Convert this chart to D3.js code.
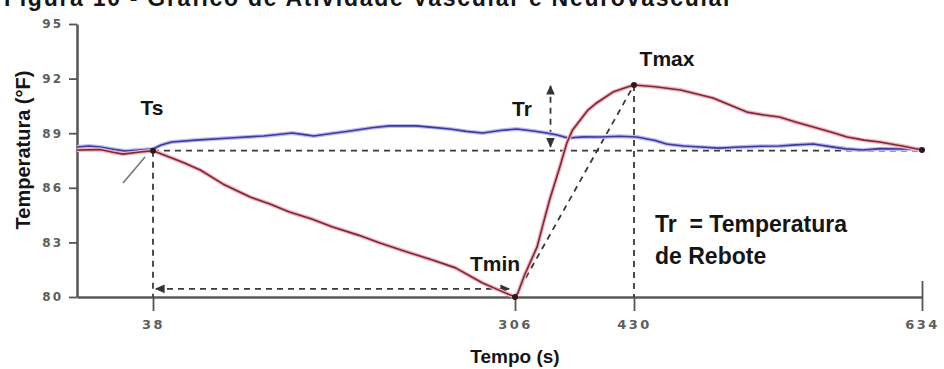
<!DOCTYPE html>
<html>
<head>
<meta charset="utf-8">
<script src="https://cdn.jsdelivr.net/npm/d3@7"></script>
<style>
  body { margin: 0; background: #fff; }
  svg { display: block; }
  .tick text { font-family: "DejaVu Sans", sans-serif; font-weight: bold; fill: #5e5e5e; }
  .lbl { font-family: "Liberation Sans", Arial, sans-serif; font-weight: bold; fill: #151515; }
</style>
</head>
<body>
<svg width="944" height="369"></svg>
<script>
// data: [time (s), temperature (°F)]
const xTicks = [38, 306, 430, 634];
const yTicks = [80, 83, 86, 89, 92, 95];

const vascular = [ // blue
  [0, 88.24], [6, 88.30], [11.5, 88.24], [18, 88.12], [24, 88.02], [31, 88.08], [38, 88.13],
  [44, 88.35], [52, 88.52], [70, 88.62], [95, 88.74], [120, 88.85], [141, 89.01], [150, 88.92],
  [157, 88.85], [170, 88.98], [184, 89.12], [200, 89.30], [213, 89.40], [233, 89.40],
  [245, 89.32], [258, 89.23], [270, 89.10], [282, 89.01], [295, 89.15], [308, 89.23],
  [325, 89.12], [339, 89.01], [350, 88.90], [361, 88.74], [378, 88.80], [395, 88.79],
  [415, 88.83], [432, 88.79], [445, 88.60], [453, 88.41], [465, 88.30], [477, 88.24],
  [490, 88.18], [505, 88.24], [520, 88.28], [533, 88.30], [545, 88.36], [557, 88.41],
  [570, 88.25], [580, 88.14], [592, 88.08], [605, 88.15], [618, 88.13], [634, 88.13]
];

const neurovascular = [ // red
  [0, 88.08], [11.5, 88.10], [18, 87.95], [23, 87.85], [31.5, 87.97], [38, 88.04],
  [48, 87.75], [60, 87.40], [73, 86.98], [90, 86.20], [110, 85.49], [125, 85.10],
  [139, 84.67], [155, 84.30], [171, 83.85], [190, 83.40], [206, 82.97], [225, 82.50],
  [245, 82.03], [262, 81.60], [282, 80.77], [295, 80.35], [306, 80.00],
  [309, 80.22], [316, 81.21], [322, 81.92], [329, 82.75], [335, 83.95], [342, 85.33],
  [353, 87.20], [360, 88.46], [366, 89.18], [374, 89.73], [382, 90.27], [391, 90.66],
  [408, 91.26], [420, 91.48], [430, 91.65], [445, 91.55], [463, 91.37], [486, 90.93],
  [498, 90.55], [510, 90.16], [522, 90.00], [533, 89.89], [545, 89.60], [557, 89.34],
  [570, 89.05], [581, 88.79], [593, 88.62], [604, 88.52], [620, 88.30], [634, 88.08]
];

// reference points
const ts = [38, 88.04];
const tmin = [306, 80.0];
const tmax = [430, 91.65];
const trTime = 343;
const spanLevel = 80.45;

const svg = d3.select("svg");

const x = d3.scaleLinear().domain([0, 38, 306, 430, 634]).range([77, 153, 515, 634, 922]);
const y = d3.scaleLinear().domain([80, 95]).range([297, 24]);

// title, cut off at the top of the picture
svg.append("text")
  .attr("class", "lbl")
  .attr("x", 4).attr("y", 6)
  .attr("font-size", 23)
  .attr("textLength", 728)
  .text("Figura 10 - Gráfico de Atividade Vascular e Neurovascular");

// markers
const defs = svg.append("defs");
defs.append("marker")
  .attr("id", "arrow")
  .attr("viewBox", "0 0 10 10")
  .attr("refX", 8).attr("refY", 5)
  .attr("markerWidth", 6).attr("markerHeight", 6)
  .attr("orient", "auto-start-reverse")
  .append("path").attr("d", "M0,1 L9,5 L0,9 z").attr("fill", "#333");

// axes
const yAxis = svg.append("g")
  .attr("transform", "translate(77,0)")
  .call(d3.axisLeft(y).tickValues(yTicks).tickSize(8).tickSizeOuter(0).tickPadding(6));
yAxis.selectAll(".tick text").attr("font-size", 12).attr("letter-spacing", 2);

const xAxis = svg.append("g")
  .attr("transform", "translate(0,297)")
  .call(d3.axisBottom(x).tickValues(xTicks).tickSize(14).tickSizeOuter(0).tickPadding(9));
xAxis.selectAll(".tick text").attr("font-size", 13).attr("letter-spacing", 2.5);
xAxis.selectAll(".tick").filter(d => d === 634)
  .append("line").attr("y1", 0).attr("y2", -16);

svg.selectAll(".domain").attr("stroke", "#5a5a5a").attr("stroke-width", 2.6);
svg.selectAll(".tick line").attr("stroke", "#555").attr("stroke-width", 1.8);

// dashed guides
const dash = svg.append("g")
  .attr("fill", "none").attr("stroke", "#3a3a3a")
  .attr("stroke-width", 1.8).attr("stroke-dasharray", "6,5");

dash.append("line")
  .attr("x1", x(ts[0])).attr("y1", y(ts[1]))
  .attr("x2", x(634)).attr("y2", y(ts[1]));
dash.append("line")
  .attr("x1", x(ts[0])).attr("y1", y(ts[1]))
  .attr("x2", x(ts[0])).attr("y2", y(80));
dash.append("line")
  .attr("x1", x(tmax[0])).attr("y1", y(tmax[1]))
  .attr("x2", x(tmax[0])).attr("y2", y(80));
dash.append("line")
  .attr("x1", x(tmin[0])).attr("y1", y(tmin[1]))
  .attr("x2", x(tmax[0])).attr("y2", y(tmax[1]));
dash.append("line")
  .attr("x1", x(ts[0]) + 3).attr("y1", y(spanLevel))
  .attr("x2", x(tmin[0]) - 6).attr("y2", y(spanLevel))
  .attr("marker-start", "url(#arrow)").attr("marker-end", "url(#arrow)");
dash.append("line")
  .attr("x1", x(trTime)).attr("y1", y(ts[1]) - 4)
  .attr("x2", x(trTime)).attr("y2", y(tmax[1]) + 1)
  .attr("marker-start", "url(#arrow)").attr("marker-end", "url(#arrow)");

// small pointer near Ts
svg.append("line")
  .attr("x1", x(23)).attr("y1", y(86.26))
  .attr("x2", x(34)).attr("y2", y(87.69))
  .attr("stroke", "#777").attr("stroke-width", 1.6);

// series
const line = d3.line().x(d => x(d[0])).y(d => y(d[1]));

function drawSeries(data, halo, core) {
  svg.append("path").datum(data)
    .attr("fill", "none").attr("stroke", halo).attr("stroke-width", 4)
    .attr("stroke-linejoin", "round").attr("d", line);
  svg.append("path").datum(data)
    .attr("fill", "none").attr("stroke", core).attr("stroke-width", 1.6)
    .attr("stroke-linejoin", "round").attr("d", line);
}
drawSeries(vascular, "#bdbaee", "#3b3a9e");
drawSeries(neurovascular, "#f2b0bd", "#7d2834");

// key points
svg.selectAll("circle.pt")
  .data([ts, tmin, tmax, [634, 88.08]])
  .join("circle")
  .attr("class", "pt")
  .attr("cx", d => x(d[0])).attr("cy", d => y(d[1]))
  .attr("r", 3).attr("fill", "#2a1a1e");

// labels
const labels = [
  { t: "Ts", x: 152, y: 115, size: 21 },
  { t: "Tmax", x: 667, y: 66, size: 21 },
  { t: "Tmin", x: 495, y: 271, size: 21 },
  { t: "Tr", x: 522, y: 116, size: 21 }
];
svg.selectAll("text.pl")
  .data(labels)
  .join("text")
  .attr("class", "lbl pl")
  .attr("x", d => d.x).attr("y", d => d.y)
  .attr("text-anchor", "middle")
  .attr("font-size", d => d.size)
  .text(d => d.t);

svg.append("text").attr("class", "lbl")
  .attr("x", 655).attr("y", 232).attr("font-size", 23)
  .attr("xml:space", "preserve")
  .text("Tr  = Temperatura");
svg.append("text").attr("class", "lbl")
  .attr("x", 655).attr("y", 264).attr("font-size", 23)
  .text("de Rebote");

// axis titles
svg.append("text").attr("class", "lbl")
  .attr("x", 515).attr("y", 363).attr("text-anchor", "middle")
  .attr("font-size", 19)
  .text("Tempo (s)");
svg.append("text").attr("class", "lbl")
  .attr("transform", "translate(30,150) rotate(-90)")
  .attr("text-anchor", "middle")
  .attr("font-size", 20)
  .text("Temperatura (°F)");
</script>
</body>
</html>
